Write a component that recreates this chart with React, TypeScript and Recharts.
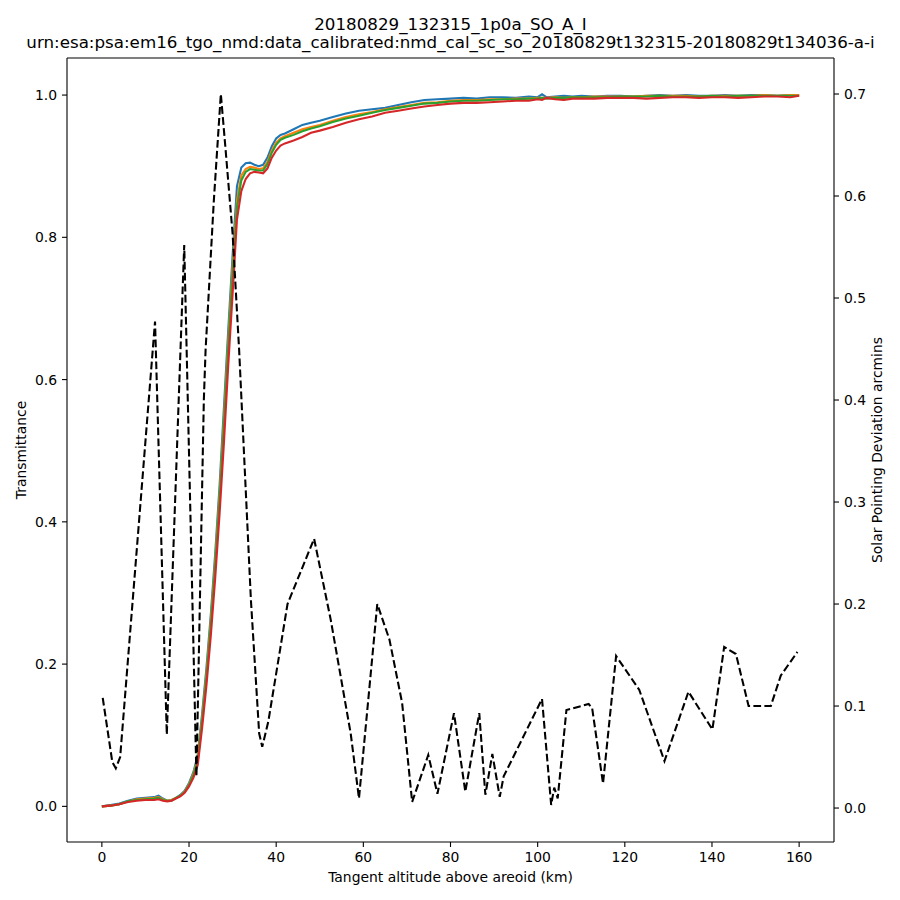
import { Label, Line, LineChart, ReferenceLine, XAxis, YAxis } from "recharts";

const TITLE = "20180829_132315_1p0a_SO_A_I";
const SUBTITLE =
  "urn:esa:psa:em16_tgo_nmd:data_calibrated:nmd_cal_sc_so_20180829t132315-20180829t134036-a-i";

// tangent altitude grid (km) shared by the four transmittance series
const ALT = [
  0, 2, 4, 6, 8, 10, 12, 13, 14, 15, 16, 17, 18, 19, 20, 21, 22, 23, 24, 25, 26, 27, 28, 29, 30,
  31, 32, 33, 34, 35, 36, 37, 38, 39, 40, 41, 42, 44, 46, 48, 50, 53, 56, 59, 62, 65, 68, 71, 74,
  77, 80, 83, 86, 89, 92, 95, 98, 100, 101, 102, 104, 106, 108, 110, 113, 116, 119, 122, 125, 128,
  131, 134, 137, 140, 143, 146, 149, 152, 155, 158, 160,
];

const BLUE = [
  0.0, 0.002, 0.004, 0.008, 0.011, 0.012, 0.013, 0.015, 0.011, 0.008, 0.009, 0.012, 0.016, 0.022,
  0.033, 0.048, 0.072, 0.13, 0.195, 0.27, 0.355, 0.45, 0.56, 0.67, 0.775, 0.872, 0.898, 0.904,
  0.905, 0.902, 0.9, 0.902, 0.912, 0.928, 0.939, 0.944, 0.946, 0.952, 0.958, 0.961, 0.964, 0.969,
  0.974, 0.978, 0.98, 0.982, 0.986, 0.99, 0.993, 0.994, 0.995, 0.996, 0.995, 0.997, 0.997, 0.996,
  0.998, 0.997, 1.001, 0.997, 0.998, 0.999, 0.998, 0.999, 0.998, 0.999, 0.999, 0.998, 0.999, 1.0,
  0.999, 1.0, 0.999, 0.999, 1.0, 0.999, 1.0, 1.0, 0.999, 1.0, 1.0,
];

const ORANGE = [
  0.0, 0.001, 0.003, 0.007, 0.01, 0.011, 0.012, 0.013, 0.01, 0.008, 0.009, 0.012, 0.015, 0.021,
  0.031, 0.046, 0.067, 0.124, 0.187, 0.262, 0.345, 0.438, 0.545, 0.655, 0.76, 0.852, 0.887, 0.896,
  0.899, 0.898, 0.896, 0.897, 0.906, 0.922, 0.933, 0.939, 0.942, 0.947, 0.952, 0.955, 0.958, 0.964,
  0.969, 0.973, 0.976, 0.98, 0.983, 0.986, 0.989, 0.99, 0.992, 0.993, 0.993, 0.994, 0.994, 0.995,
  0.995, 0.996, 0.996, 0.996, 0.997, 0.996, 0.997, 0.997, 0.998, 0.998, 0.998, 0.998, 0.999, 0.999,
  0.999, 0.999, 0.998, 0.999, 0.999, 0.999, 0.999, 1.0, 0.999, 1.0, 1.0,
];

const GREEN = [
  0.0, 0.001, 0.003, 0.007, 0.009, 0.01, 0.011, 0.012, 0.009, 0.008, 0.008, 0.012, 0.015, 0.02,
  0.03, 0.044, 0.064, 0.12, 0.182, 0.255, 0.338, 0.43, 0.535, 0.645, 0.748, 0.842, 0.88, 0.892,
  0.896, 0.895, 0.894, 0.894, 0.903, 0.919, 0.93, 0.937, 0.94, 0.944, 0.949, 0.953, 0.956, 0.962,
  0.967, 0.971, 0.975, 0.979, 0.982, 0.985, 0.988, 0.989, 0.991, 0.992, 0.992, 0.993, 0.994, 0.994,
  0.995, 0.995, 0.996, 0.995, 0.996, 0.996, 0.997, 0.997, 0.997, 0.997, 0.998, 0.998, 0.998, 0.999,
  0.998, 0.998, 0.998, 0.999, 0.998, 0.999, 0.999, 0.999, 0.999, 0.999, 0.999,
];

const RED = [
  0.0, 0.001, 0.003, 0.006, 0.008, 0.009, 0.009, 0.01, 0.008, 0.007, 0.008, 0.011, 0.014, 0.019,
  0.028, 0.04, 0.058, 0.11, 0.17, 0.24, 0.32, 0.41, 0.51, 0.62, 0.72, 0.825, 0.865, 0.882, 0.89,
  0.892, 0.891, 0.89, 0.897, 0.912, 0.922, 0.929, 0.932, 0.936, 0.941, 0.947, 0.95, 0.955, 0.961,
  0.966, 0.97, 0.975, 0.978, 0.981, 0.984, 0.986, 0.988, 0.989, 0.989, 0.99, 0.991, 0.992, 0.992,
  0.994, 0.993, 0.996, 0.994, 0.993, 0.995, 0.995, 0.995, 0.996, 0.996, 0.996, 0.995, 0.996, 0.997,
  0.997, 0.996, 0.997, 0.997, 0.996, 0.997, 0.998, 0.998, 0.997, 0.999,
];

// solar pointing deviation (arcmins), right axis
const POINT_ALT = [
  0.2, 2.4, 3.2, 4.2, 12.2, 14.9, 18.9, 21.7, 22.5, 23.4, 23.8, 25.7, 27.3, 28.4, 30.0, 31.5, 34.2,
  36.1, 36.8, 38.2, 41.0, 42.6, 48.7, 52.5, 57.1, 59.0, 63.2, 66.0, 68.9, 71.2, 74.9, 77.0, 80.8,
  83.4, 86.6, 88.0, 89.6, 91.3, 92.2, 101.0, 103.1, 103.8, 104.6, 106.6, 111.7, 112.5, 115.0,
  118.0, 123.3, 129.1, 134.6, 140.1, 142.8, 145.5, 148.4, 153.5, 155.8, 159.6,
];
const POINT_DEV = [
  0.108, 0.045, 0.039, 0.05, 0.477, 0.072, 0.552, 0.031, 0.204, 0.4, 0.449, 0.596, 0.7, 0.645,
  0.563, 0.449, 0.204, 0.073, 0.06, 0.085, 0.158, 0.2, 0.264, 0.185, 0.073, 0.0095, 0.2, 0.165,
  0.103, 0.006, 0.052, 0.014, 0.093, 0.016, 0.093, 0.013, 0.053, 0.011, 0.031, 0.107, 0.003, 0.02,
  0.0095, 0.096, 0.102, 0.098, 0.024, 0.149, 0.116, 0.046, 0.114, 0.077, 0.158, 0.151, 0.1, 0.1,
  0.13, 0.153,
];

const X_TICKS = [0, 20, 40, 60, 80, 100, 120, 140, 160];
const LEFT_TICKS = [0, 0.2, 0.4, 0.6, 0.8, 1.0];
const RIGHT_TICKS = [0, 0.1, 0.2, 0.3, 0.4, 0.5, 0.6, 0.7];

const FONT = "DejaVu Sans";
const LW = 2.08;

const rows = ALT.map((alt, i) => ({
  alt,
  blue: BLUE[i],
  orange: ORANGE[i],
  green: GREEN[i],
  red: RED[i],
}));
const pointing = POINT_ALT.map((alt, i) => ({ alt, dev: POINT_DEV[i] }));

const tick = { fill: "#000", fontSize: 13.9, fontFamily: FONT };
const axisLine = { stroke: "#000", strokeWidth: 1.1 };

function AxisTitle({ x, y, angle, text }: { x: number; y: number; angle?: number; text: string }) {
  return (
    <text
      x={x}
      y={y}
      transform={angle ? `rotate(${angle} ${x} ${y})` : undefined}
      textAnchor="middle"
      dominantBaseline="central"
      fontFamily={FONT}
      fontSize={13.9}
      fill="#000"
    >
      {text}
    </text>
  );
}

export default function App() {
  return (
    <div style={{ position: "absolute", left: 0, top: 0, width: 900, height: 900, background: "#fff" }}>
      <svg
        width={900}
        height={60}
        style={{ position: "absolute", left: 0, top: 0 }}
        fontFamily={FONT}
        fontSize={16.7}
      >
        <text x={450.5} y={29.5} textAnchor="middle" fill="#000">
          {TITLE}
        </text>
        <text x={450.5} y={47.5} textAnchor="middle" fill="#000">
          {SUBTITLE}
        </text>
      </svg>
      <LineChart width={900} height={900} data={rows} margin={{ top: 58, right: 0, bottom: 0, left: 0 }}>
        <XAxis
          dataKey="alt"
          type="number"
          domain={[-8, 168]}
          allowDataOverflow
          ticks={X_TICKS}
          interval={0}
          height={58}
          tickSize={5}
          tickMargin={5}
          tick={tick}
          axisLine={axisLine}
          tickLine={axisLine}
        >
          <Label content={() => <AxisTitle x={450.5} y={877} text="Tangent altitude above areoid (km)" />} />
        </XAxis>
        <YAxis
          yAxisId="left"
          type="number"
          domain={[-0.0501, 1.0521]}
          allowDataOverflow
          ticks={LEFT_TICKS}
          interval={0}
          width={67}
          tickSize={5}
          tickMargin={5}
          tick={tick}
          tickFormatter={(v: number) => v.toFixed(1)}
          axisLine={axisLine}
          tickLine={axisLine}
        >
          <Label content={() => <AxisTitle x={21} y={450} angle={-90} text="Transmittance" />} />
        </YAxis>
        <YAxis
          yAxisId="right"
          orientation="right"
          type="number"
          domain={[-0.0333, 0.7353]}
          allowDataOverflow
          ticks={RIGHT_TICKS}
          interval={0}
          width={66}
          tickSize={5}
          tickMargin={5}
          tick={tick}
          tickFormatter={(v: number) => v.toFixed(1)}
          axisLine={axisLine}
          tickLine={axisLine}
        >
          <Label
            content={() => (
              <AxisTitle x={877} y={450} angle={-90} text="Solar Pointing Deviation arcmins" />
            )}
          />
        </YAxis>
        <ReferenceLine yAxisId="left" y={1.0521} stroke="#000" strokeWidth={1.1} />
        <Line yAxisId="left" dataKey="blue" stroke="#1f77b4" strokeWidth={LW} dot={false} isAnimationActive={false} />
        <Line yAxisId="left" dataKey="orange" stroke="#ff7f0e" strokeWidth={LW} dot={false} isAnimationActive={false} />
        <Line yAxisId="left" dataKey="green" stroke="#2ca02c" strokeWidth={LW} dot={false} isAnimationActive={false} />
        <Line yAxisId="left" dataKey="red" stroke="#d62728" strokeWidth={LW} dot={false} isAnimationActive={false} />
        <Line
          yAxisId="right"
          data={pointing}
          dataKey="dev"
          stroke="#000"
          strokeWidth={LW}
          strokeDasharray="7.7 3.3"
          dot={false}
          isAnimationActive={false}
        />
      </LineChart>
    </div>
  );
}
